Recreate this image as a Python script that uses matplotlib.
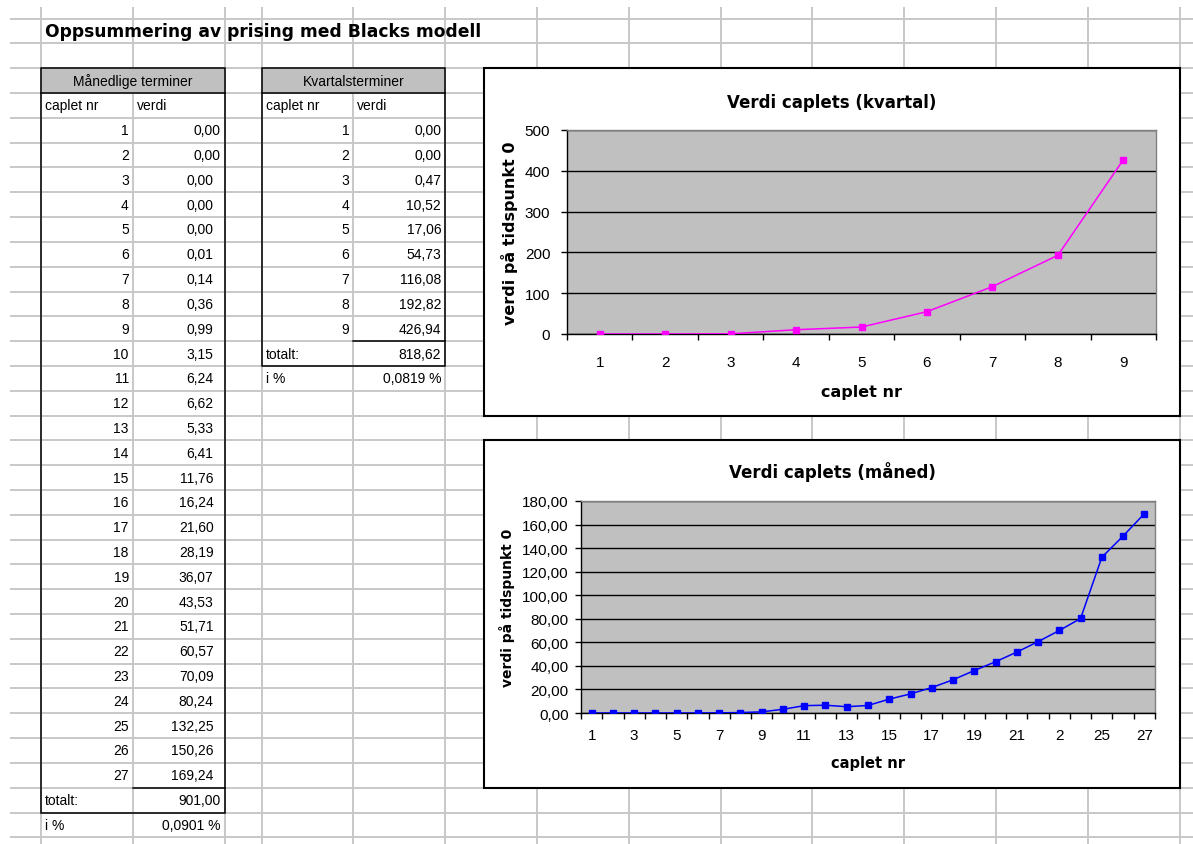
import numpy as np
import matplotlib
matplotlib.use("Agg")
import matplotlib.pyplot as plt
from matplotlib.patches import Rectangle
from matplotlib.ticker import MultipleLocator, FuncFormatter

plt.rcParams['font.family'] = ['Liberation Sans', 'DejaVu Sans']

# Månedlige terminer
caplet_maned = list(range(1, 28))
verdi_maned = [0.00, 0.00, 0.00, 0.00, 0.00, 0.01, 0.14, 0.36, 0.99, 3.15,
               6.24, 6.62, 5.33, 6.41, 11.76, 16.24, 21.60, 28.19, 36.07, 43.53,
               51.71, 60.57, 70.09, 80.24, 132.25, 150.26, 169.24]
prosent_maned = 0.0901

# Kvartalsterminer
caplet_kvartal = list(range(1, 10))
verdi_kvartal = [0.00, 0.00, 0.47, 10.52, 17.06, 54.73, 116.08, 192.82, 426.94]
prosent_kvartal = 0.0819

# aksetekster i månedsgrafen (annenhver caplet)
maned_ticks = [1, 3, 5, 7, 9, 11, 13, 15, 17, 19, 21, 23, 25, 27]
maned_ticklabels = ['1', '3', '5', '7', '9', '11', '13', '15', '17', '19',
                    '21', '2', '25', '27']


def komma(v, dec=2):
    return f"{v:.{dec}f}".replace('.', ',')


W, H = 1193, 845
fig = plt.figure(figsize=(W / 100, H / 100), dpi=100)

# regneark-bakgrunn i pikselkoordinater
ark = fig.add_axes([0, 0, 1, 1])
ark.set_xlim(0, W)
ark.set_ylim(H, 0)
ark.axis('off')

row_h = 24.81
row_top = 19.6
col_x = [41, 132.8, 224.6, 261.6, 353.4, 445.2, 537, 628.8, 720.6, 812.4,
         904.2, 996, 1087.8, 1179.6]


def rad(r):
    # øvre kant av rad r
    return row_top + row_h * r


def midt(r):
    return rad(r) + row_h / 2


grid_c = '#c8c8c8'
hy = [rad(r) for r in range(40) if rad(r) < H]
ark.hlines(hy, 10, W, color=grid_c, lw=1.4, zorder=1)
ark.vlines(col_x, 8, H, color=grid_c, lw=1.4, zorder=1)

txt = dict(fontsize=10, va='center', zorder=5)

ark.text(45, midt(0), 'Oppsummering av prising med Blacks modell', fontsize=12.3,
         fontweight='bold', family='DejaVu Sans', va='center', zorder=5)


def tabell(x0, x1, x2, tittel, nr, verdier, total, prosent, pad_fn):
    # grå overskrift
    ark.add_patch(Rectangle((x0, rad(2)), x2 - x0, row_h, facecolor='#c0c0c0',
                            edgecolor='none', zorder=2))
    ark.text((x0 + x2) / 2, midt(2), tittel, ha='center', **txt)
    ark.text(x0 + 4, midt(3), 'caplet nr', ha='left', **txt)
    ark.text(x1 + 4, midt(3), 'verdi', ha='left', **txt)
    for i, (n, v) in enumerate(zip(nr, verdier)):
        r = 4 + i
        ark.text(x1 - 4, midt(r), str(n), ha='right', **txt)
        ark.text(x2 - pad_fn(i), midt(r), komma(v), ha='right', **txt)
    r_tot = 4 + len(nr)
    ark.text(x0 + 4, midt(r_tot), 'totalt:', ha='left', **txt)
    ark.text(x2 - 4, midt(r_tot), komma(total), ha='right', **txt)
    ark.text(x0 + 4, midt(r_tot + 1), 'i %', ha='left', **txt)
    ark.text(x2 - 4, midt(r_tot + 1), komma(prosent, 4) + ' %', ha='right', **txt)

    # rammer
    lw = 1.1
    ark.add_patch(Rectangle((x0, rad(2)), x2 - x0, rad(r_tot + 1) - rad(2),
                            facecolor='none', edgecolor='black', lw=lw, zorder=4))
    ark.plot([x0, x2], [rad(3), rad(3)], color='black', lw=lw, zorder=4)
    ark.plot([x1, x2], [rad(r_tot), rad(r_tot)], color='black', lw=lw, zorder=4)


tabell(col_x[0], col_x[1], col_x[2], 'Månedlige terminer', caplet_maned,
       verdi_maned, sum(verdi_maned), prosent_maned,
       lambda i: 4 if i < 2 else 11)
tabell(col_x[3], col_x[4], col_x[5], 'Kvartalsterminer', caplet_kvartal,
       verdi_kvartal, sum(verdi_kvartal), prosent_kvartal, lambda i: 4)

# hvite diagramrammer
for top, bunn in [(rad(2), rad(16)), (rad(17), rad(31))]:
    ark.add_patch(Rectangle((484, top), 1180 - 484, bunn - top, facecolor='white',
                            edgecolor='black', lw=1.5, zorder=3))


def diagram(rect, x, y, farge, ymax, ystep, yfmt, tittel, tittel_x, tittel_pad,
            ticks, ticklabels, tick_pad, ypad, ylab_x, xlab_y, labsize, ylabsize):
    ax = fig.add_axes([rect[0] / W, 1 - rect[3] / H, (rect[2] - rect[0]) / W,
                       (rect[3] - rect[1]) / H])
    ax.set_facecolor('#c0c0c0')
    ax.plot(x, y, color=farge, lw=1.1, marker='s', ms=5, zorder=3)
    n = len(x)
    ax.set_xlim(0.5, n + 0.5)
    ax.set_ylim(0, ymax)
    ax.yaxis.set_major_locator(MultipleLocator(ystep))
    ax.yaxis.set_major_formatter(FuncFormatter(yfmt))
    ax.grid(axis='y', color='black', lw=1.0)
    ax.set_axisbelow(True)
    ax.set_xticks(np.arange(0.5, n + 1))
    ax.set_xticklabels([])
    ax.set_xticks(ticks, minor=True)
    ax.set_xticklabels(ticklabels, minor=True)
    ax.tick_params(axis='x', which='major', length=4, width=1, direction='out')
    ax.tick_params(axis='x', which='minor', length=0, pad=tick_pad, labelsize=11)
    ax.tick_params(axis='y', length=4, width=1, pad=ypad, labelsize=11)
    for s in ['left', 'bottom']:
        ax.spines[s].set_color('black')
        ax.spines[s].set_linewidth(1.0)
    for s in ['top', 'right']:
        ax.spines[s].set_color('#808080')
        ax.spines[s].set_linewidth(1.0)
    ax.set_title(tittel, x=tittel_x, pad=tittel_pad, fontsize=12, fontweight='bold',
                 family='DejaVu Sans')
    ax.set_xlabel('caplet nr', fontsize=labsize, fontweight='bold', family='DejaVu Sans')
    ax.xaxis.set_label_coords(0.5, xlab_y)
    ax.set_ylabel('verdi på tidspunkt 0', fontsize=ylabsize, fontweight='bold',
                  family='DejaVu Sans', va='center')
    ax.yaxis.set_label_coords(ylab_x, 0.5)
    return ax


diagram((567, 131, 1156, 335), caplet_kvartal, verdi_kvartal, '#ff00ff', 500, 100,
        lambda v, p: f"{v:.0f}", 'Verdi caplets (kvartal)', (832 - 567) / 589, 16.5,
        caplet_kvartal, [str(c) for c in caplet_kvartal], 15, 8,
        (509 - 567) / 589, -0.245, 11.5, 11.5)

diagram((581, 502, 1155, 714), caplet_maned, verdi_maned, '#0000ff', 180, 20,
        lambda v, p: komma(v), 'Verdi caplets (måned)', (832 - 581) / 574, 17,
        maned_ticks, maned_ticklabels, 11, 5,
        (507 - 581) / 574, -0.198, 10.5, 10)

fig.savefig('out.png', dpi=100)
